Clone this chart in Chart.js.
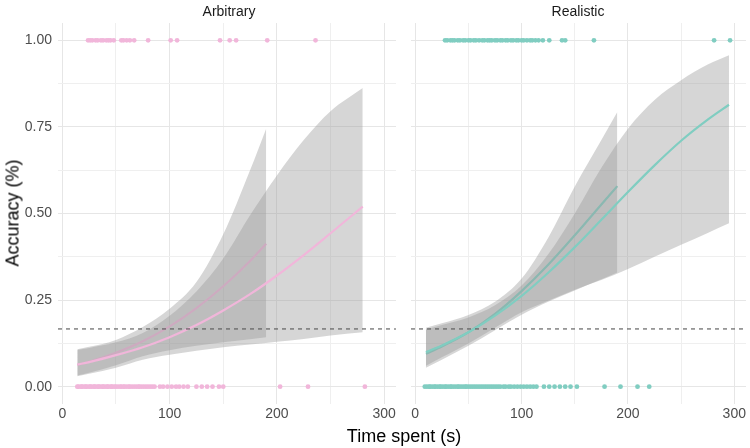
<!DOCTYPE html>
<html>
<head>
<meta charset="utf-8">
<script src="https://cdn.jsdelivr.net/npm/chart.js@4.4.1/dist/chart.umd.min.js"></script>
<style>
  html, body { margin: 0; padding: 0; background: #fff; }
  body { width: 750px; height: 448px; position: relative; overflow: hidden;
         font-family: 'Liberation Sans', Arial, sans-serif; }
  canvas { position: absolute; top: 0; }
  #left { left: 0; }
  #right { left: 407px; }
  .lbl { position: absolute; transform: translate(-50%, -50%); white-space: nowrap; }
  .strip { top: 11px; font-size: 14px; color: #1a1a1a; }
  .title { font-size: 18px; color: #000; }
  #ytitle { left: 13px; top: 213px; transform: translate(-50%, -50%) rotate(-90deg); }
  #xtitle { left: 404px; top: 436px; }
</style>
</head>
<body>
<canvas id="left" width="400" height="448"></canvas>
<canvas id="right" width="343" height="448"></canvas>
<div class="lbl strip" style="left:229px">Arbitrary</div>
<div class="lbl strip" style="left:578px">Realistic</div>
<div class="lbl title" id="ytitle">Accuracy (%)</div>
<div class="lbl title" id="xtitle">Time spent (s)</div>
<script>
// axis breaks (labels on every other one)
var X_BREAKS = [0, 50, 100, 150, 200, 250, 300];
var Y_BREAKS = [0, 0.125, 0.25, 0.375, 0.5, 0.625, 0.75, 0.875, 1];
var CHANCE = 0.1667;

// Arbitrary: fitted curves and ribbons
var arbShortX   = [14, 25, 50, 75, 100, 125, 150, 175, 190];
var arbShortFit = [0.063, 0.072, 0.098, 0.131, 0.174, 0.227, 0.290, 0.363, 0.413];
var arbShortLo  = [0.032, 0.040, 0.062, 0.088, 0.105, 0.118, 0.128, 0.137, 0.143];
var arbShortHi  = [0.108, 0.115, 0.135, 0.172, 0.225, 0.302, 0.440, 0.625, 0.745];

var arbLongX   = [14, 25, 50, 75, 100, 125, 150, 175, 200, 225, 250, 280];
var arbLongFit = [0.064, 0.071, 0.091, 0.114, 0.143, 0.178, 0.220, 0.267, 0.321, 0.380, 0.443, 0.520];
var arbLongLo  = [0.030, 0.037, 0.055, 0.078, 0.092, 0.104, 0.114, 0.122, 0.130, 0.138, 0.148, 0.157];
var arbLongHi  = [0.106, 0.112, 0.128, 0.155, 0.205, 0.275, 0.370, 0.495, 0.610, 0.712, 0.795, 0.862];

// Arbitrary: time of correct (1) and wrong (0) answers
var arbHitX = [24, 26, 28, 31, 33, 36, 38, 41, 43, 45, 48, 55, 57, 60, 63, 67, 80, 101, 107, 147, 156, 162, 191, 236];
var arbMissX = [14, 15, 17, 18, 19, 21, 22, 23, 25, 26, 27, 29, 30, 31, 33, 34, 35, 37, 38, 39, 41, 42, 43, 45,
  46, 47, 49, 50, 52, 54, 55, 57, 58, 60, 62, 63, 65, 67, 69, 71, 72, 74, 76, 78, 80, 82, 84, 86,
  91, 94, 98, 102, 106, 109, 113, 117, 125, 130, 135, 140, 146, 150, 203, 229, 282];

// Realistic
var relShortX   = [10, 25, 50, 75, 100, 125, 150, 175, 190];
var relShortFit = [0.095, 0.116, 0.157, 0.210, 0.276, 0.352, 0.437, 0.526, 0.579];
var relShortLo  = [0.055, 0.078, 0.118, 0.163, 0.208, 0.245, 0.278, 0.310, 0.330];
var relShortHi  = [0.170, 0.183, 0.207, 0.245, 0.312, 0.430, 0.578, 0.712, 0.793];

var relLongX   = [10, 25, 50, 75, 100, 125, 150, 175, 200, 225, 250, 275, 295];
var relLongFit = [0.100, 0.119, 0.157, 0.205, 0.262, 0.329, 0.403, 0.482, 0.562, 0.639, 0.710, 0.771, 0.814];
var relLongLo  = [0.060, 0.085, 0.125, 0.170, 0.215, 0.248, 0.280, 0.308, 0.340, 0.375, 0.410, 0.444, 0.472];
var relLongHi  = [0.165, 0.178, 0.200, 0.235, 0.292, 0.382, 0.500, 0.632, 0.745, 0.828, 0.885, 0.930, 0.957];

var relHitX = [28, 30, 33, 35, 37, 40, 42, 45, 47, 50, 52, 55, 57, 60, 63, 65, 68, 70, 72, 75, 77, 80, 82,
  85, 87, 90, 92, 95, 97, 100, 102, 105, 108, 110, 113, 116, 120, 126, 138, 141, 168, 281, 296];
var relMissX = [9, 11, 13, 14, 16, 18, 19, 21, 23, 24, 26, 28, 29, 31, 33, 34, 36, 38, 40, 41, 43, 45, 47,
  48, 50, 52, 54, 56, 58, 60, 62, 64, 66, 68, 70, 72, 74, 76, 78, 80, 83, 85, 88, 90, 93, 96, 99, 102,
  105, 108, 111, 114, 121, 126, 131, 136, 141, 146, 152, 178, 193, 209, 220];

var PINK = '#f1b6da';
var TEAL = '#80cdc1';
var RIBBON = 'rgba(153,153,153,0.4)';

Chart.defaults.font.family = "'Liberation Sans', Arial, sans-serif";
Chart.defaults.font.size = 14;
Chart.defaults.color = '#4d4d4d';

function zip(xs, ys) {
  return xs.map(function (x, i) { return { x: x, y: ys[i] }; });
}
function at(xs, y) {
  return xs.map(function (x) { return { x: x, y: y }; });
}

var chanceLine = {
  id: 'chanceLine',
  afterDatasetsDraw: function (chart) {
    var a = chart.chartArea;
    var py = chart.scales.y.getPixelForValue(CHANCE);
    var ctx = chart.ctx;
    ctx.save();
    ctx.strokeStyle = '#555555';
    ctx.lineWidth = 1.1;
    ctx.setLineDash([4, 4]);
    ctx.beginPath();
    ctx.moveTo(a.left, py);
    ctx.lineTo(a.right, py);
    ctx.stroke();
    ctx.restore();
  }
};

function band(data, order, fillTarget) {
  return {
    data: data, order: order, borderWidth: 0, pointRadius: 0,
    cubicInterpolationMode: 'monotone',
    fill: fillTarget === undefined ? false : { target: fillTarget },
    backgroundColor: RIBBON
  };
}
function curve(data, order, color) {
  return {
    data: data, order: order, borderColor: color, borderWidth: 2.2, pointRadius: 0,
    cubicInterpolationMode: 'monotone', fill: false
  };
}
function dots(data, color) {
  return {
    data: data, order: 1, showLine: false, pointRadius: 2.4, pointBorderWidth: 0,
    pointBackgroundColor: color, backgroundColor: color, borderColor: color
  };
}

function makePanel(canvas, p, showY) {
  return new Chart(canvas.getContext('2d'), {
    type: 'line',
    data: {
      datasets: [
        band(zip(p.sx, p.slo), 6),
        band(zip(p.sx, p.shi), 6, 0),
        curve(zip(p.sx, p.sfit), 5, p.color),
        band(zip(p.lx, p.llo), 4),
        band(zip(p.lx, p.lhi), 4, 3),
        curve(zip(p.lx, p.lfit), 3, p.color),
        dots(at(p.hit, 1), p.color),
        dots(at(p.miss, 0), p.color)
      ]
    },
    options: {
      responsive: false,
      animation: false,
      layout: { padding: { top: 23, left: 0, right: 0, bottom: 0 } },
      plugins: { legend: { display: false }, tooltip: { enabled: false } },
      scales: {
        x: {
          type: 'linear', min: -4, max: 311,
          afterBuildTicks: function (s) { s.ticks = X_BREAKS.map(function (v) { return { value: v }; }); },
          afterFit: function (s) { s.height = 44; s.paddingLeft = 0; s.paddingRight = 0; },
          ticks: {
            autoSkip: false, maxRotation: 0, padding: 2,
            callback: function (v) { return v % 100 === 0 ? String(v) : ''; }
          },
          grid: {
            drawTicks: false,
            color: function (c) { return c.tick && c.tick.value % 100 === 0 ? '#e6e6e6' : '#efefef'; },
            lineWidth: 1
          },
          border: { display: false }
        },
        y: {
          type: 'linear', min: -0.05, max: 1.05,
          afterBuildTicks: function (s) { s.ticks = Y_BREAKS.map(function (v) { return { value: v }; }); },
          afterFit: function (s) { s.width = showY ? 58 : 0; s.paddingTop = 0; s.paddingBottom = 0; },
          ticks: {
            display: showY, autoSkip: false, padding: 6,
            callback: function (v) { return (v * 4) % 1 === 0 ? v.toFixed(2) : ''; }
          },
          grid: {
            drawTicks: false,
            color: function (c) { return c.tick && (c.tick.value * 4) % 1 === 0 ? '#e6e6e6' : '#efefef'; },
            lineWidth: 1
          },
          border: { display: false }
        }
      }
    },
    plugins: [chanceLine]
  });
}

makePanel(document.getElementById('left'), {
  sx: arbShortX, sfit: arbShortFit, slo: arbShortLo, shi: arbShortHi,
  lx: arbLongX, lfit: arbLongFit, llo: arbLongLo, lhi: arbLongHi,
  hit: arbHitX, miss: arbMissX, color: PINK
}, true);

makePanel(document.getElementById('right'), {
  sx: relShortX, sfit: relShortFit, slo: relShortLo, shi: relShortHi,
  lx: relLongX, lfit: relLongFit, llo: relLongLo, lhi: relLongHi,
  hit: relHitX, miss: relMissX, color: TEAL
}, false);
</script>
</body>
</html>
